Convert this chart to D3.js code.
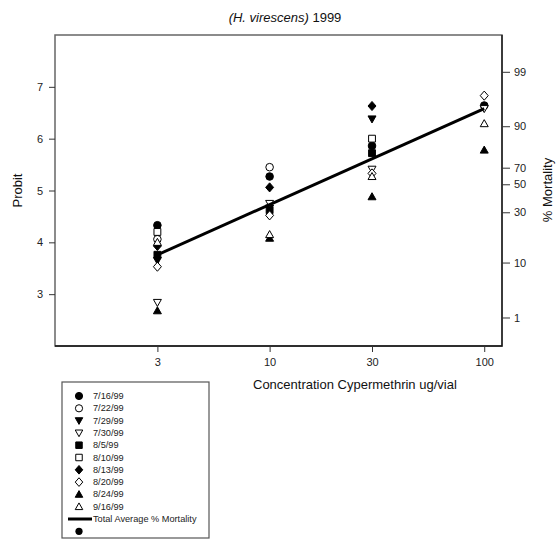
<!DOCTYPE html>
<html>
<head>
<meta charset="utf-8">
<script src="https://cdn.jsdelivr.net/npm/d3@7"></script>
<style>
  body { margin: 0; background: #fff; }
  svg { font-family: "Liberation Sans", Arial, sans-serif; }
</style>
</head>
<body>
<svg id="chart" width="556" height="540"></svg>
<script>
const concentrations = [3, 10, 30, 100];
const dates = ['7/16/99', '7/22/99', '7/29/99', '7/30/99', '8/5/99', '8/10/99', '8/13/99', '8/20/99', '8/24/99', '9/16/99'];
const shapes = ['circle', 'circle', 'tridown', 'tridown', 'square', 'square', 'diamond', 'diamond', 'triup', 'triup'];
const filled = [true, false, true, false, true, false, true, false, true, false];

// probit values per date, one per concentration (null = not visible)
const p0716 = [4.33, 5.27, 5.86, 6.64];
const p0722 = [4.06, 5.45, null, null];
const p0729 = [3.65, 4.66, 6.38, null];
const p0730 = [2.84, 4.75, 5.41, 6.58];
const p0805 = [3.76, 4.62, 5.72, null];
const p0810 = [4.20, null, 6.00, null];
const p0813 = [3.93, 5.06, 6.63, null];
const p0820 = [3.53, 4.52, 5.33, 6.83];
const p0824 = [2.68, 4.08, 4.88, 5.78];
const p0916 = [4.00, 4.15, 5.27, 6.29];
const seriesValues = [p0716, p0722, p0729, p0730, p0805, p0810, p0813, p0820, p0824, p0916];

// total average regression line (concentration, probit)
const avgLine = [[3, 3.76], [100, 6.58]];

const xTicks = [3, 10, 30, 100];
const probitTicks = [3, 4, 5, 6, 7];
const mortalityLabels = ['99', '90', '70', '50', '30', '10', '1'];
const mortalityPos = [7.29, 6.24, 5.44, 5.12, 4.58, 3.61, 2.55];

const svg = d3.select('#chart');
const margin = { left: 55, top: 35, right: 502, bottom: 346 };

const x = d3.scaleLog().domain([1, 121]).range([margin.left, margin.right]);
const y = d3.scaleLinear().domain([2, 8]).range([margin.bottom, margin.top]);

// frame
svg.append('rect')
  .attr('x', margin.left).attr('y', margin.top)
  .attr('width', margin.right - margin.left)
  .attr('height', margin.bottom - margin.top)
  .attr('fill', 'none')
  .attr('stroke', '#666')
  .attr('stroke-width', 1.5);
svg.append('path')
  .attr('d', `M${margin.left},${margin.bottom}H${margin.right}V${margin.top}`)
  .attr('fill', 'none')
  .attr('stroke', '#111')
  .attr('stroke-width', 1.3);

const xAxis = svg.append('g')
  .attr('transform', `translate(0,${margin.bottom})`)
  .call(d3.axisBottom(x).tickValues(xTicks).tickFormat(d3.format('d')).tickSize(6).tickPadding(6));
const yAxis = svg.append('g')
  .attr('transform', `translate(${margin.left},0)`)
  .call(d3.axisLeft(y).tickValues(probitTicks).tickFormat(d3.format('d')).tickSize(6).tickPadding(6));
const yRight = svg.append('g')
  .attr('transform', `translate(${margin.right},0)`)
  .call(d3.axisRight(y).tickValues(mortalityPos)
    .tickFormat((d, i) => mortalityLabels[i]).tickSize(8).tickPadding(4));

[xAxis, yAxis, yRight].forEach(g => {
  g.select('.domain').remove();
  g.selectAll('line').attr('stroke', '#333');
  g.selectAll('text')
    .attr('fill', '#222')
    .style('font-size', '11px')
    .style('font-family', '"Liberation Sans", Arial, sans-serif');
});

// titles
const title = svg.append('text')
  .attr('x', 285).attr('y', 22)
  .attr('text-anchor', 'middle')
  .style('font-size', '13px')
  .attr('fill', '#111');
title.append('tspan').style('font-style', 'italic').text('(H. virescens)');
title.append('tspan').text(' 1999');

svg.append('text')
  .attr('transform', `translate(22,${(margin.top + margin.bottom) / 2}) rotate(-90)`)
  .attr('text-anchor', 'middle')
  .style('font-size', '13px')
  .attr('fill', '#111')
  .text('Probit');

svg.append('text')
  .attr('transform', `translate(552,190) rotate(-90)`)
  .attr('text-anchor', 'middle')
  .style('font-size', '13px')
  .attr('fill', '#111')
  .text('% Mortality');

svg.append('text')
  .attr('x', 253).attr('y', 389)
  .style('font-size', '13px')
  .attr('fill', '#111')
  .text('Concentration Cypermethrin ug/vial');

// marker paths
function shapePath(shape, r) {
  switch (shape) {
    case 'circle':
      return d3.symbol(d3.symbolCircle, Math.PI * r * r)();
    case 'square': {
      const s = r * 0.9;
      return `M${-s},${-s}H${s}V${s}H${-s}Z`;
    }
    case 'diamond':
      return `M0,${-r * 1.2}L${r * 1.05},0L0,${r * 1.2}L${-r * 1.05},0Z`;
    case 'triup':
      return `M0,${-r * 1.05}L${r * 1.05},${r * 0.8}L${-r * 1.05},${r * 0.8}Z`;
    case 'tridown':
      return `M0,${r * 1.05}L${r * 1.05},${-r * 0.8}L${-r * 1.05},${-r * 0.8}Z`;
  }
}

const points = svg.append('g');
seriesValues.forEach((vals, si) => {
  const pts = concentrations.map((c, i) => ({ c, v: vals[i] })).filter(d => d.v !== null);
  points.selectAll(null)
    .data(pts)
    .enter()
    .append('path')
    .attr('transform', d => `translate(${x(d.c)},${y(d.v)})`)
    .attr('d', shapePath(shapes[si], 3.8))
    .attr('fill', filled[si] ? '#000' : '#fff')
    .attr('stroke', '#000')
    .attr('stroke-width', 1);
});

const line = d3.line().x(d => x(d[0])).y(d => y(d[1]));
svg.append('path')
  .attr('d', line(avgLine))
  .attr('fill', 'none')
  .attr('stroke', '#000')
  .attr('stroke-width', 3);

// legend
const legend = svg.append('g');
legend.append('rect')
  .attr('x', 62).attr('y', 382)
  .attr('width', 147).attr('height', 156)
  .attr('fill', '#fff')
  .attr('stroke', '#555')
  .attr('stroke-width', 1.2);

const rowH = 12.3;
dates.forEach((d, i) => {
  const cy = 396 + i * rowH;
  legend.append('path')
    .attr('transform', `translate(79,${cy})`)
    .attr('d', shapePath(shapes[i], 3.6))
    .attr('fill', filled[i] ? '#000' : '#fff')
    .attr('stroke', '#000');
  legend.append('text')
    .attr('x', 93).attr('y', cy + 3)
    .style('font-size', '9.2px')
    .attr('fill', '#222')
    .text(d);
});
const lineY = 396 + 10 * rowH;
legend.append('line')
  .attr('x1', 68).attr('x2', 92)
  .attr('y1', lineY).attr('y2', lineY)
  .attr('stroke', '#000').attr('stroke-width', 3);
legend.append('text')
  .attr('x', 93).attr('y', lineY + 3)
  .style('font-size', '9.2px')
  .attr('fill', '#222')
  .text('Total Average % Mortality');
legend.append('path')
  .attr('transform', `translate(79,${lineY + rowH})`)
  .attr('d', shapePath('circle', 3.6))
  .attr('fill', '#000');
</script>
</body>
</html>
